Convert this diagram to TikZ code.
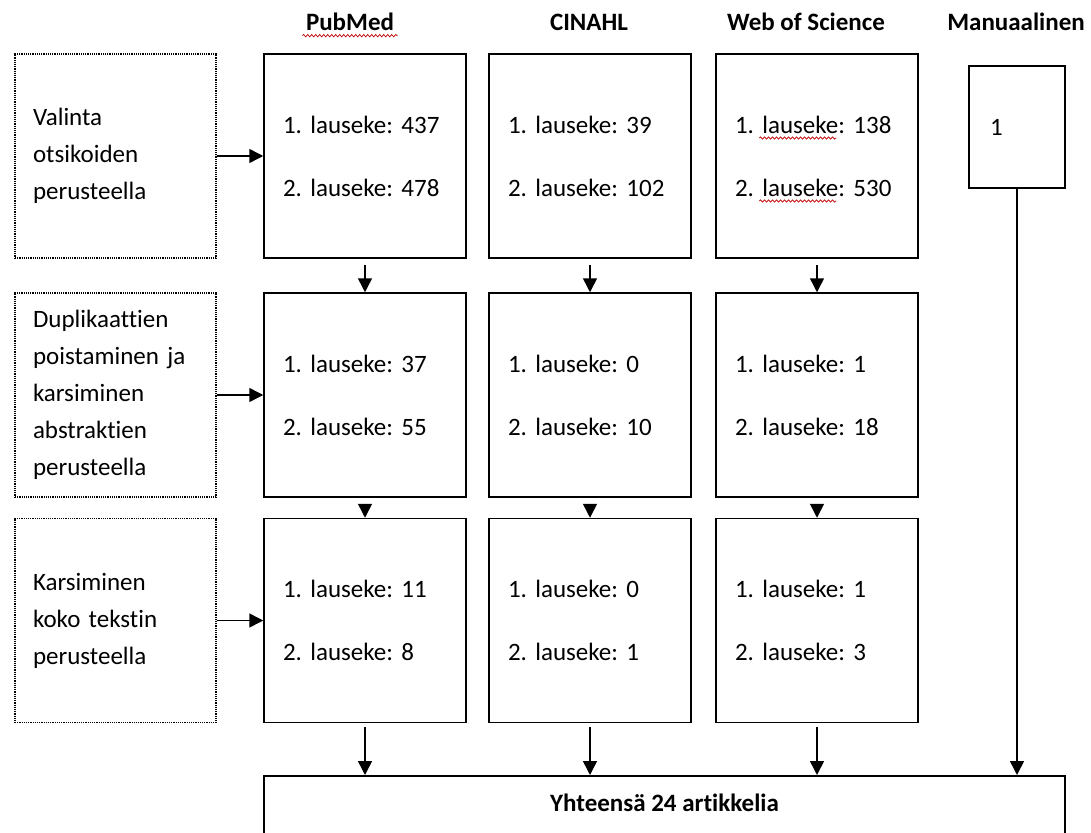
\documentclass[tikz,border=0pt]{standalone}
\usepackage{fontspec}
\setmainfont{Carlito}[Ligatures=NoCommon]
\usetikzlibrary{arrows.meta,decorations.pathmorphing}

\begin{document}
\begin{tikzpicture}[x=1pt,y=-1pt,
  hdr/.style={font=\bfseries\fontsize{25}{30}\selectfont},
  dbbox/.style={draw, line width=1.5pt, minimum width=202pt, minimum height=204pt,
    inner xsep=19pt, text width=164pt, align=left, font=\fontsize{25}{37}\selectfont\frenchspacing},
  stagebox/.style={draw, densely dotted, line width=1.2pt, minimum width=201pt, minimum height=204pt,
    inner xsep=18pt, text width=165pt, align=left, font=\fontsize{25}{37}\selectfont},
  flow/.style={line width=1.5pt, -{Triangle[width=14pt,length=14pt]}},
  wavy/.style={red!75!black, line width=0.7pt, decorate,
    decoration={snake, amplitude=1.2pt, segment length=4pt}}]
\clip (0,0) rectangle (1091,832);

% Cabeceras de las bases de datos
\node[hdr] (hpm) at (350,22) {PubMed};
\node[hdr] (hci) at (589,22) {CINAHL};
\node[hdr] (hws) at (806,22) {Web of Science};
\node[hdr] (hman) at (1016,22) {Manuaalinen};

% Fases (cajas punteadas)
\node[stagebox] (val) at (115.5,156) {Valinta\\otsikoiden\\perusteella};
\node[stagebox] (dup) at (115.5,395) {Duplikaattien\\poistaminen ja\\karsiminen\\abstraktien\\perusteella};
\node[stagebox] (kok) at (115.5,620.5) {Karsiminen\\koko tekstin\\perusteella};

% PubMed
\node[dbbox] (pm1) at (365,156) {1. lauseke: 437\\[26pt]2. lauseke: 478};
\node[dbbox] (pm2) at (365,395) {1. lauseke: 37\\[26pt]2. lauseke: 55};
\node[dbbox] (pm3) at (365,620.5) {1. lauseke: 11\\[26pt]2. lauseke: 8};

% CINAHL
\node[dbbox] (ci1) at (590,156) {1. lauseke: 39\\[26pt]2. lauseke: 102};
\node[dbbox] (ci2) at (590,395) {1. lauseke: 0\\[26pt]2. lauseke: 10};
\node[dbbox] (ci3) at (590,620.5) {1. lauseke: 0\\[26pt]2. lauseke: 1};

% Web of Science
\node[dbbox] (ws1) at (817,156) {1. lauseke: 138\\[26pt]2. lauseke: 530};
\node[dbbox] (ws2) at (817,395) {1. lauseke: 1\\[26pt]2. lauseke: 18};
\node[dbbox] (ws3) at (817,620.5) {1. lauseke: 1\\[26pt]2. lauseke: 3};

% Manual y total
\node[draw, line width=1.5pt, minimum width=96pt, minimum height=122pt, inner xsep=21pt,
  text width=54pt, align=left, font=\fontsize{25}{37}\selectfont] (man) at (1017,127) {1};
\node[draw, line width=1.5pt, anchor=north, minimum width=801pt, inner ysep=10pt,
  text height=26pt, text depth=40pt, font=\bfseries\fontsize{25}{30}\selectfont]
  (total) at (664.5,775) {Yhteensä 24 artikkelia};

% Subrayado ondulado del corrector
\draw[wavy] ([yshift=-5pt]hpm.base west) -- ([yshift=-5pt]hpm.base east);
\draw[wavy] ([xshift=44pt,yshift=18pt]ws1.west) -- ([xshift=121pt,yshift=18pt]ws1.west);
\draw[wavy] ([xshift=44pt,yshift=-45pt]ws1.west) -- ([xshift=121pt,yshift=-45pt]ws1.west);

% Flechas
\draw[flow] (val.east) -- (pm1.west);
\draw[flow] (dup.east) -- (pm2.west);
\draw[flow] (kok.east) -- (pm3.west);
\foreach \c in {pm,ci,ws} {
  \draw[flow, shorten <=6pt] (\c1.south) -- (\c2.north);
  \draw[flow, shorten <=6pt] (\c2.south) -- (\c3.north);
  \draw[flow, shorten <=4pt] (\c3.south) -- (\c3.south |- total.north);
}
\draw[flow] (man.south) -- (man.south |- total.north);
\end{tikzpicture}
\end{document}
